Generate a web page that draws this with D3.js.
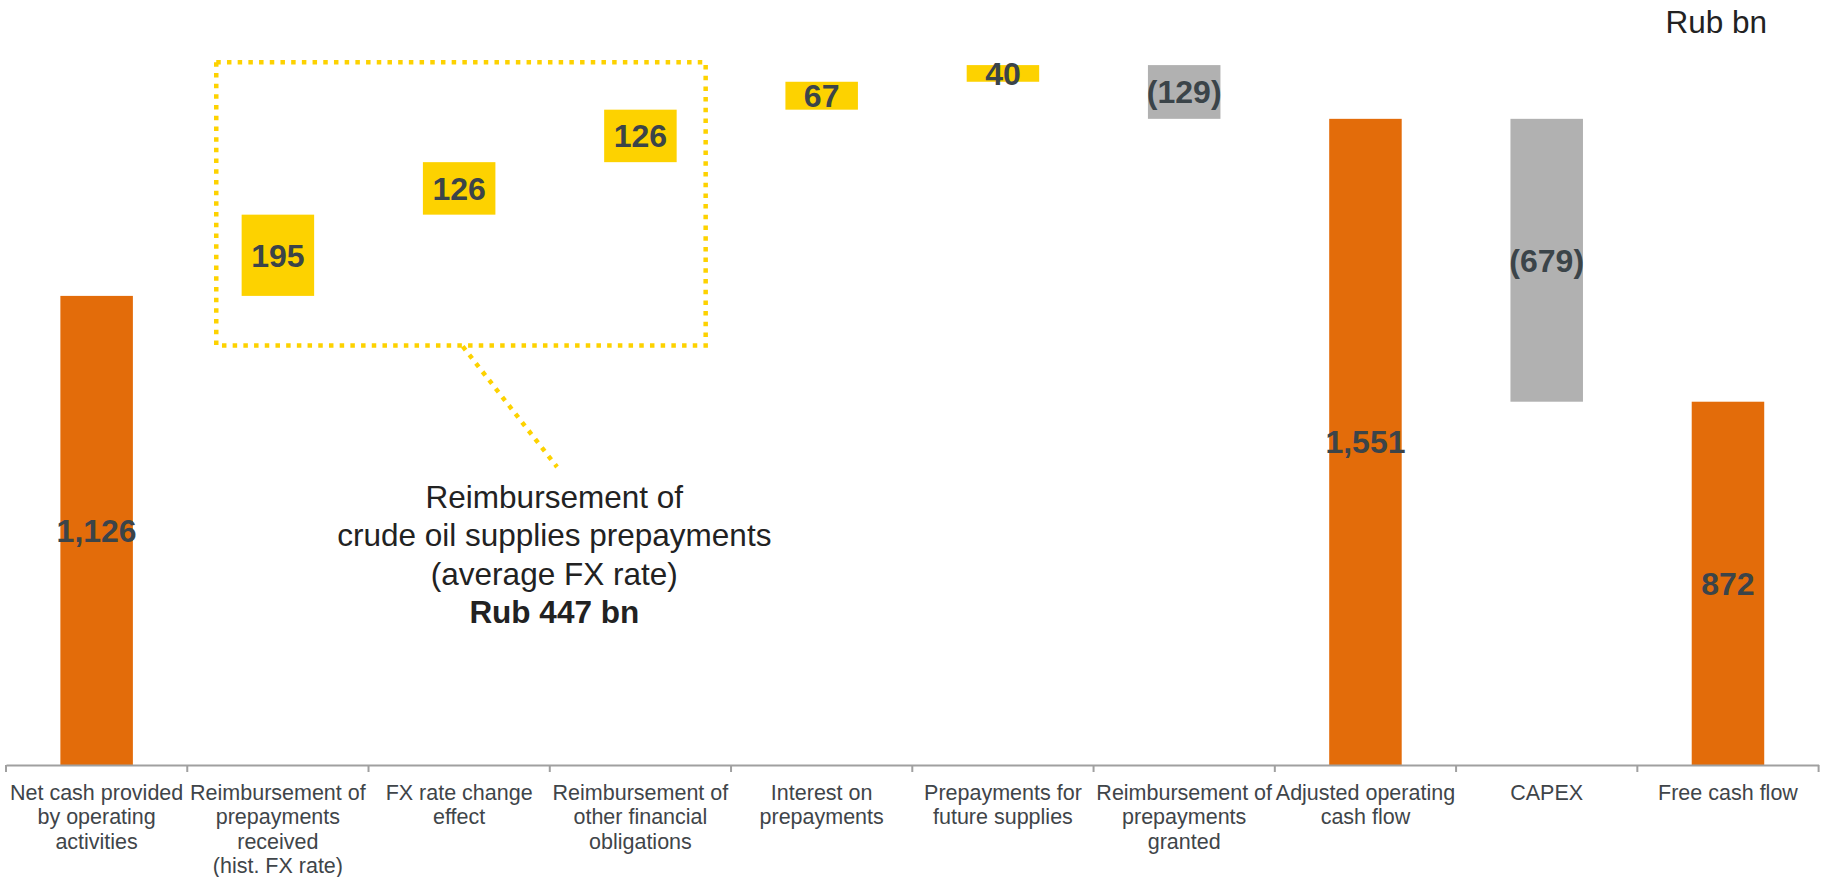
<!DOCTYPE html>
<html>
<head>
<meta charset="utf-8">
<script src="https://cdn.jsdelivr.net/npm/d3@7"></script>
<style>
  html, body { margin: 0; padding: 0; background: #fff; }
  svg { display: block; }
  text { font-family: "Liberation Sans", Arial, sans-serif; }
</style>
</head>
<body>
<svg id="chart" width="1825" height="877"></svg>
<script>
// ---- data ----
const categories = [
  ["Net cash provided", "by operating", "activities"],
  ["Reimbursement of", "prepayments", "received", "(hist. FX rate)"],
  ["FX rate change", "effect"],
  ["Reimbursement of", "other financial", "obligations"],
  ["Interest on", "prepayments"],
  ["Prepayments for", "future supplies"],
  ["Reimbursement of", "prepayments", "granted"],
  ["Adjusted operating", "cash flow"],
  ["CAPEX"],
  ["Free cash flow"]
];
const values = [1126, 195, 126, 126, 67, 40, -129, 1551, -679, 872];
const kinds  = ["total", "delta", "delta", "delta", "delta", "delta", "delta", "total", "delta", "total"];
const unitLabel = "Rub bn";
const annotationLines = ["Reimbursement of", "crude oil supplies prepayments", "(average FX rate)"];
const annotationGroup = [1, 2, 3]; // indices of the bracketed bars

// ---- layout ----
const W = 1825, H = 877;
const axisY = 765;
const svg = d3.select("#chart");

const x = d3.scaleBand()
  .domain(d3.range(categories.length))
  .range([6, 1818.6])
  .paddingInner(0)
  .paddingOuter(0);
const bw = x.bandwidth();
const barW = bw * 0.4;

const y = d3.scaleLinear().domain([0, 1800]).range([axisY, 15.1]);

// waterfall computation
let running = 0;
const bars = values.map((v, i) => {
  let lo, hi;
  if (kinds[i] === "total") {
    lo = 0; hi = v; running = v;
  } else {
    const start = running;
    running += v;
    lo = Math.min(start, running); hi = Math.max(start, running);
  }
  return { i, v, lo, hi, kind: kinds[i] };
});

const colorOf = d => d.kind === "total" ? "#E36C0A" : (d.v >= 0 ? "#FDD200" : "#B1B1B1");
const fmt = v => v < 0 ? "(" + d3.format(",")(-v) + ")" : d3.format(",")(v);

// bars
svg.append("g").selectAll("rect").data(bars).join("rect")
  .attr("x", d => x(d.i) + (bw - barW) / 2)
  .attr("width", barW)
  .attr("y", d => y(d.hi))
  .attr("height", d => y(d.lo) - y(d.hi))
  .attr("fill", colorOf);

// value labels
svg.append("g").selectAll("text").data(bars).join("text")
  .attr("x", d => x(d.i) + bw / 2)
  .attr("y", d => (y(d.lo) + y(d.hi)) / 2)
  .attr("dy", "0.36em")
  .attr("text-anchor", "middle")
  .attr("font-size", 32)
  .attr("font-weight", "bold")
  .attr("fill", "#3B4449")
  .text(d => fmt(d.v));

// axis
const axis = d3.axisBottom(x).tickSize(0).tickFormat("");
const gAxis = svg.append("g").attr("transform", `translate(0,${axisY})`).call(axis);
gAxis.select(".domain").attr("stroke", "#A0A0A0").attr("stroke-width", 2);
// boundary ticks
const bounds = d3.range(categories.length + 1).map(k => 6 + k * bw);
gAxis.selectAll("line.bound").data(bounds).join("line")
  .attr("class", "bound")
  .attr("x1", d => d).attr("x2", d => d)
  .attr("y1", 0).attr("y2", 7)
  .attr("stroke", "#A0A0A0").attr("stroke-width", 2);

// category labels
const catG = svg.append("g").selectAll("text").data(categories).join("text")
  .attr("text-anchor", "middle")
  .attr("font-size", 21.5)
  .attr("fill", "#3F4549")
  .attr("x", (d, i) => x(i) + bw / 2)
  .attr("y", 800);
catG.selectAll("tspan").data(d => d).join("tspan")
  .attr("x", function () { return d3.select(this.parentNode).attr("x"); })
  .attr("dy", (d, k) => k === 0 ? 0 : 24.3)
  .text(d => d);

// unit label
svg.append("text")
  .attr("x", 1767).attr("y", 33)
  .attr("text-anchor", "end")
  .attr("font-size", 31.5)
  .attr("fill", "#222")
  .text(unitLabel);

// annotation box (dotted)
const gi0 = annotationGroup[0], gi1 = annotationGroup[annotationGroup.length - 1];
const boxX0 = x(gi0) + bw * 0.16, boxX1 = x(gi1) + bw * 0.86;
const boxY0 = y(1687), boxY1 = y(1007);
const dotted = { stroke: "#FDD200", "stroke-width": 4.5, "stroke-dasharray": "4.5 6.2", fill: "none" };
const box = svg.append("rect")
  .attr("x", boxX0).attr("y", boxY0)
  .attr("width", boxX1 - boxX0).attr("height", boxY1 - boxY0);
Object.entries(dotted).forEach(([k, v]) => box.attr(k, v));

const conn = svg.append("line")
  .attr("x1", x(gi0) + bw * 1.52).attr("y1", boxY1 + 1)
  .attr("x2", x(gi0 + 1) + bw * 1.04).attr("y2", 467);
Object.entries(dotted).forEach(([k, v]) => conn.attr(k, v));

// annotation text
const total447 = d3.sum(annotationGroup, i => values[i]);
const annX = x(gi0 + 2) + 4.5;
const ann = svg.append("text")
  .attr("text-anchor", "middle")
  .attr("font-size", 31.5)
  .attr("fill", "#222")
  .attr("x", annX).attr("y", 508);
annotationLines.forEach((t, k) => {
  ann.append("tspan").attr("x", annX).attr("dy", k === 0 ? 0 : 38.3).text(t);
});
ann.append("tspan").attr("x", annX).attr("dy", 38.3).attr("font-weight", "bold")
  .text("Rub " + total447 + " bn");
</script>
</body>
</html>
